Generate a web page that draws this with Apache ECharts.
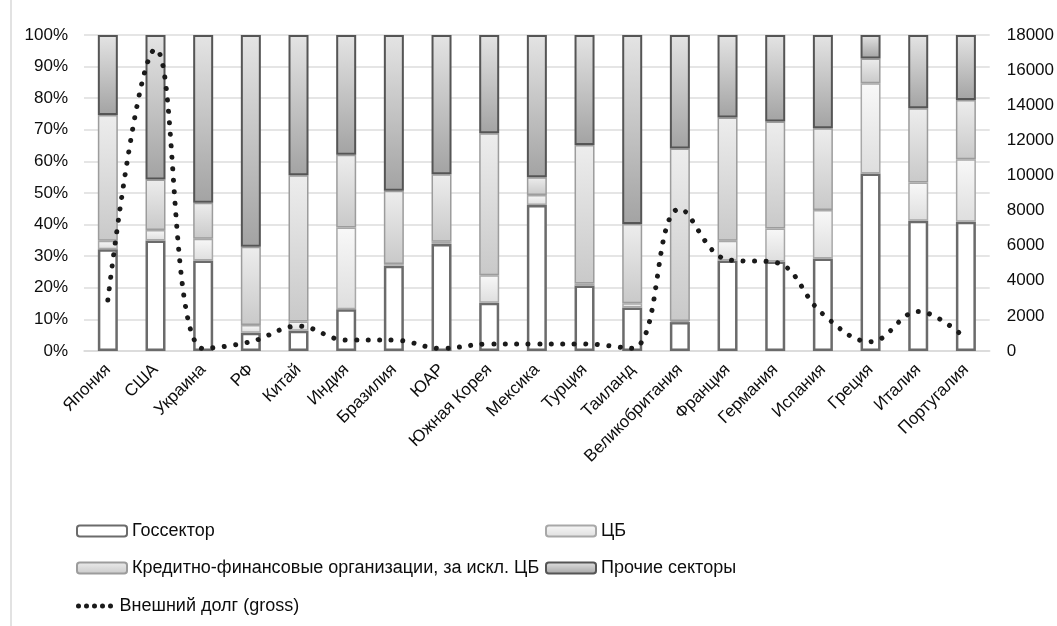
<!DOCTYPE html>
<html>
<head>
<meta charset="utf-8">
<script src="https://cdn.jsdelivr.net/npm/echarts@6/dist/echarts.min.js"></script>
<style>
  html, body { margin: 0; padding: 0; background: #ffffff; }
  #chart { width: 1057px; height: 626px; }
</style>
</head>
<body>
<div id="chart"></div>
<script>
// Countries along the x axis
const countries = ['Япония', 'США', 'Украина', 'РФ', 'Китай', 'Индия', 'Бразилия', 'ЮАР',
  'Южная Корея', 'Мексика', 'Турция', 'Таиланд', 'Великобритания', 'Франция', 'Германия',
  'Испания', 'Греция', 'Италия', 'Португалия'];

// Structure of external debt by sector, % of total
const govSector   = [32.2, 35.0, 28.6, 5.8, 6.4, 13.2, 27.0, 33.9, 15.3, 46.2, 20.7, 13.8, 9.2, 28.6, 28.3, 29.3, 56.2, 41.2, 40.9];
const centralBank = [2.7, 3.3, 6.9, 2.4, 2.9, 25.9, 0.5, 0.7, 8.7, 3.2, 0.7, 1.3, 0.3, 6.3, 10.5, 15.3, 28.5, 12.1, 19.8];
const creditOrgs  = [39.8, 16.0, 11.4, 24.8, 46.3, 23.0, 23.2, 21.3, 44.9, 5.6, 43.8, 25.1, 54.6, 39.0, 33.8, 25.9, 7.9, 23.5, 18.7];
const otherSect   = [25.3, 45.7, 53.1, 67.0, 44.4, 37.9, 49.3, 44.1, 31.1, 45.0, 34.8, 59.8, 35.9, 26.1, 27.4, 29.5, 7.4, 23.2, 20.6];

// Gross external debt, bn USD (right axis)
const grossDebt = [2900, 17200, 140, 530, 1420, 620, 620, 150, 400, 400, 400, 150, 8100, 5200, 5050, 2100, 530, 2250, 700];

// Axis ticks
const pctTicks = { min: 0, max: 100, interval: 10 };
const debtTicks = { min: 0, max: 18000, interval: 2000 };

const seriesNames = ['Госсектор', 'ЦБ', 'Кредитно-финансовые организации, за искл. ЦБ', 'Прочие секторы', 'Внешний долг (gross)'];

const FONT = "'Liberation Sans', Arial, sans-serif";
const TEXT = '#0d0d0d';
const grad = (top, bottom) => new echarts.graphic.LinearGradient(0, 0, 0, 1, [
  { offset: 0, color: top }, { offset: 1, color: bottom }
]);

// Five round dots for the line's legend key
const dotsIcon = 'path://' + [0, 1, 2, 3, 4].map(i => {
  const cx = 4 + i * 8;
  return 'M' + (cx - 2.5) + ',2.5a2.5,2.5 0 1,0 5,0a2.5,2.5 0 1,0 -5,0z';
}).join('');

const chart = echarts.init(document.getElementById('chart'), null, { renderer: 'canvas' });

const legendBase = {
  orient: 'horizontal',
  itemWidth: 50,
  itemHeight: 11,
  itemGap: 10,
  textStyle: { fontFamily: FONT, fontSize: 18, color: TEXT },
  selectedMode: false
};

const barBase = {
  type: 'bar',
  stack: 'debt',
  barWidth: 20,
  yAxisIndex: 0,
  emphasis: { disabled: true }
};

chart.setOption({
  animation: false,
  backgroundColor: '#ffffff',
  textStyle: { fontFamily: FONT },
  grid: { left: 84, right: 67, top: 35, bottom: 275, containLabel: false },
  legend: [
    Object.assign({}, legendBase, { data: [seriesNames[0]], left: 71, top: 517 }),
    Object.assign({}, legendBase, { data: [seriesNames[1]], left: 540, top: 517 }),
    Object.assign({}, legendBase, { data: [seriesNames[2]], left: 71, top: 554 }),
    Object.assign({}, legendBase, { data: [seriesNames[3]], left: 540, top: 554 }),
    Object.assign({}, legendBase, {
      data: [{ name: seriesNames[4], icon: dotsIcon, itemStyle: { color: '#1a1a1a', borderWidth: 0 } }],
      left: 71, top: 592, itemWidth: 40, itemHeight: 5
    })
  ],
  xAxis: {
    type: 'category',
    data: countries,
    axisLine: { show: true, lineStyle: { color: '#d9d9d9', width: 1.5 } },
    axisTick: { show: false },
    axisLabel: {
      rotate: 45,
      interval: 0,
      margin: 16,
      fontFamily: FONT,
      fontSize: 17,
      color: TEXT
    }
  },
  yAxis: [
    {
      type: 'value',
      min: pctTicks.min, max: pctTicks.max, interval: pctTicks.interval,
      axisLine: { show: false },
      axisTick: { show: false },
      axisLabel: { formatter: '{value}%', fontFamily: FONT, fontSize: 17, color: TEXT, margin: 16 },
      splitLine: { show: true, lineStyle: { color: '#dcdcdc', width: 1.5 } }
    },
    {
      type: 'value',
      position: 'right',
      min: debtTicks.min, max: debtTicks.max, interval: debtTicks.interval,
      axisLine: { show: false },
      axisTick: { show: false },
      axisLabel: { formatter: v => String(v), fontFamily: FONT, fontSize: 17, color: TEXT, margin: 17 },
      splitLine: { show: false }
    }
  ],
  graphic: [
    { type: 'line', shape: { x1: 11, y1: 0, x2: 11, y2: 626 }, style: { stroke: '#d9d9d9', lineWidth: 1.5 }, silent: true }
  ],
  series: [
    Object.assign({}, barBase, {
      name: seriesNames[0],
      data: govSector,
      itemStyle: { color: '#ffffff', borderColor: '#6b6b6b', borderWidth: 2.5 }
    }),
    Object.assign({}, barBase, {
      name: seriesNames[1],
      data: centralBank,
      itemStyle: { color: grad('#f8f8f8', '#dedede'), borderColor: '#a8a8a8', borderWidth: 1.5 }
    }),
    Object.assign({}, barBase, {
      name: seriesNames[2],
      data: creditOrgs,
      itemStyle: { color: grad('#ededed', '#c9c9c9'), borderColor: '#9c9c9c', borderWidth: 1.5 }
    }),
    Object.assign({}, barBase, {
      name: seriesNames[3],
      data: otherSect,
      itemStyle: { color: grad('#e4e4e4', '#a3a3a3'), borderColor: '#555555', borderWidth: 2 }
    }),
    {
      name: seriesNames[4],
      type: 'line',
      yAxisIndex: 1,
      data: grossDebt,
      smooth: 0.4,
      symbol: 'none',
      z: 5,
      emphasis: { disabled: true },
      itemStyle: { color: '#1a1a1a' },
      lineStyle: { color: '#1a1a1a', width: 5, type: [0.01, 11.5], cap: 'round' }
    }
  ]
});
</script>
</body>
</html>
